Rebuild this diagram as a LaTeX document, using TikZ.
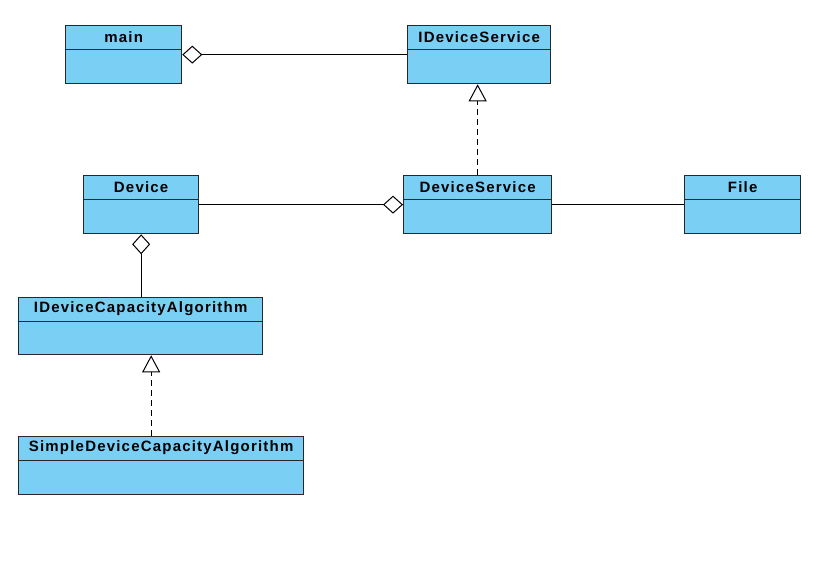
\documentclass[tikz,border=0pt]{standalone}
\usepackage{fontspec}
\setmainfont{Liberation Sans}
\usetikzlibrary{arrows.meta}

\definecolor{clsfill}{RGB}{122,207,245}
\definecolor{boxline}{RGB}{40,40,40}

\tikzset{
  clsname/.style={font=\bfseries\fontsize{15}{17}\selectfont\addfontfeature{LetterSpace=8}},
  cls/.style={draw=boxline, fill=clsfill, line width=1.3pt, minimum height=58pt, inner sep=0pt, anchor=north west,
    label={[clsname, anchor=center, inner sep=0pt, yshift=-12pt]north:#1},
    path picture={\draw[boxline, line width=1.3pt] ([yshift=-24pt]path picture bounding box.north west) -- ([yshift=-24pt]path picture bounding box.north east);}},
  assoc/.style={line width=1pt},
  aggr/.style={line width=1pt, {Diamond[length=20pt, width=18pt, open, fill=white]}-},
  realize/.style={line width=1pt, dash pattern=on 6pt off 4pt, -{Triangle[length=17pt, width=18pt, open, fill=white]}}
}

\begin{document}
\begin{tikzpicture}[x=1pt,y=1pt,yscale=-1,xscale=1]
\useasboundingbox (0,0) rectangle (820,569);

% classes
\node[cls=main, minimum width=116pt] (main) at (65,25) {};
\node[cls=IDeviceService, minimum width=143pt] (idevsvc) at (407,25) {};
\node[cls=Device, minimum width=115pt] (device) at (83,175) {};
\node[cls=DeviceService, minimum width=148pt] (devsvc) at (403,175) {};
\node[cls=File, minimum width=116pt] (file) at (684,175) {};
\node[cls=IDeviceCapacityAlgorithm, minimum width=244pt, minimum height=57pt] (idevcap) at (18,297) {};
\node[cls=SimpleDeviceCapacityAlgorithm, minimum width=285pt] (simpledevcap) at (18,436) {};

% relations
\draw[aggr] (main) -- (idevsvc);
\draw[aggr] (devsvc) -- (device);
\draw[assoc] (devsvc) -- (file);
\draw[aggr] (device.south) -- (device.south |- idevcap.north);
\draw[realize] (devsvc.north) -- (devsvc.north |- idevsvc.south);
\draw[realize] ([xshift=-10pt]simpledevcap.north) -- ([xshift=-10pt]simpledevcap.north |- idevcap.south);
\end{tikzpicture}
\end{document}
